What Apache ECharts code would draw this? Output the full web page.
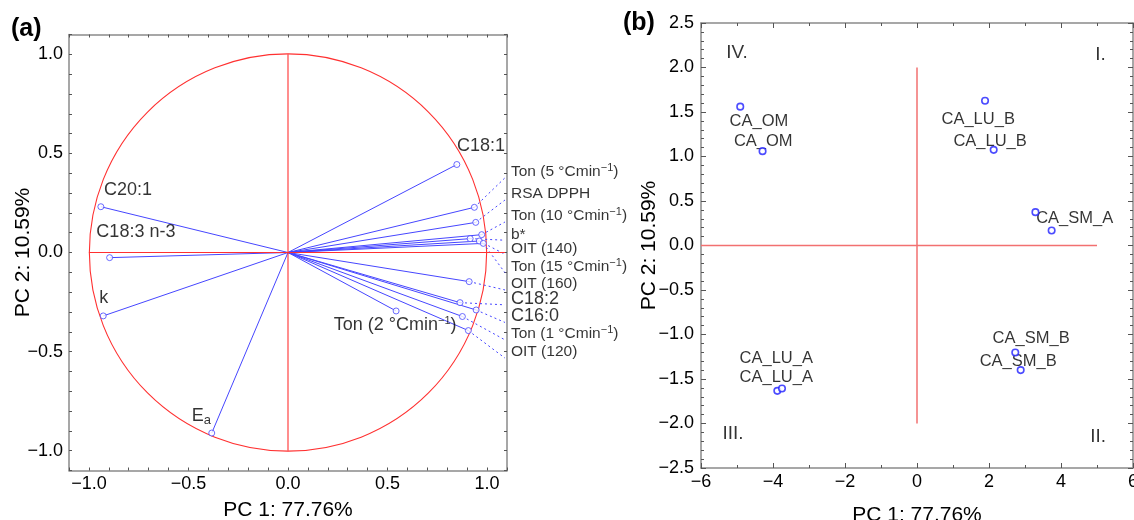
<!DOCTYPE html>
<html>
<head>
<meta charset="utf-8">
<script src="https://cdn.jsdelivr.net/npm/echarts@6/dist/echarts.min.js"></script>
<style>
html,body{margin:0;padding:0;background:#fff;}
#chart{width:1134px;height:520px;}
</style>
</head>
<body>
<div id="chart"></div>
<script>
// ---------- Panel (a): loadings ----------
// loadings whose labels sit in the list at the right edge
const listNames = ['Ton (5 °Cmin{sup|−1})', 'RSA DPPH', 'Ton (10 °Cmin{sup|−1})', 'b*', 'OIT (140)',
  'Ton (15 °Cmin{sup|−1})', 'OIT (160)', '{big|C18:2}', '{big|C16:0}', 'Ton (1 °Cmin{sup|−1})', 'OIT (120)'];
const listX = [0.936, 0.943, 0.973, 0.915, 0.961, 0.981, 0.910, 0.864, 0.945, 0.876, 0.906];
const listY = [0.228, 0.152, 0.090, 0.070, 0.058, 0.046, -0.147, -0.253, -0.290, -0.323, -0.394];
const listLabelY = [0.407, 0.295, 0.184, 0.092, 0.021, -0.072, -0.159, -0.234, -0.323, -0.411, -0.503];
const listLabelX = 1.12;
const connectorEndX = 1.09;

// loadings labelled next to their point
const otherNames = ['C18:1', 'C20:1', 'C18:3 n-3', 'k', 'E{sub|a}', 'Ton (2 °Cmin{sup|−1})'];
const otherX = [0.848, -0.940, -0.896, -0.928, -0.383, 0.543];
const otherY = [0.444, 0.231, -0.026, -0.320, -0.911, -0.295];
const otherLabelX = [0.97, -0.804, -0.764, -0.925, -0.435, 0.538];
const otherLabelY = [0.536, 0.315, 0.103, -0.229, -0.825, -0.365];

const loadAxisMin = -1.1, loadAxisMax = 1.1;

// ---------- Panel (b): scores ----------
const sampleX = [-4.91, -4.29, 1.89, 2.13, 3.29, 3.74, -3.88, -3.75, 2.73, 2.88];
const sampleY = [1.56, 1.06, 1.626, 1.075, 0.375, 0.169, -1.633, -1.607, -1.202, -1.40];
const sampleLabels = ['CA_OM', 'CA_OM', 'CA_LU_B', 'CA_LU_B', 'CA_SM_A', 'CA_LU_A', 'CA_LU_A', 'CA_SM_B', 'CA_SM_B'];
const sampleLabelX = [-4.39, -4.27, 1.70, 2.03, 4.38, -3.91, -3.91, 3.17, 2.81];
const sampleLabelY = [1.393, 1.169, 1.42, 1.169, 0.30, -1.273, -1.479, -1.048, -1.303];
const quadrantNames = ['IV.', 'I.', 'III.', 'II.'];
const quadrantX = [-5.0, 5.1, -5.11, 5.03];
const quadrantY = [2.16, 2.14, -2.11, -2.15];

const scoreXMin = -6, scoreXMax = 6, scoreXStep = 2;
const scoreYMin = -2.5, scoreYMax = 2.5, scoreYStep = 0.5;

// ---------- styles ----------
const FONT = 'Liberation Sans, Arial, Helvetica, sans-serif';
const FRAME = '#8a8a8a';
const BLUE = '#4646ff';
const RED = '#ff3030';

const minus = v => (v < -1e-9 ? '\u2212' : '') + Math.abs(v);
function fmt1(v) { return (v < -1e-9 ? '\u2212' : '') + Math.abs(v).toFixed(1); }
function loadFmt(v) {
  const d = v * 2;
  if (Math.abs(d - Math.round(d)) > 1e-6) return '';
  return fmt1(Math.round(d) / 2);
}

function frameAxis(extra) {
  return Object.assign({
    type: 'value',
    nameMoveOverlap: false,
    axisLine: { show: true, onZero: false, lineStyle: { color: FRAME, width: 1.5 } },
    axisTick: { show: true, inside: true, length: 3, lineStyle: { color: '#555', width: 1 } },
    splitLine: { show: false },
    axisLabel: { show: false },
    nameTextStyle: { fontFamily: FONT, fontSize: 21, color: '#000' }
  }, extra);
}
const tickLabel = (fmt, margin) => ({ show: true, formatter: fmt, fontFamily: FONT, fontSize: 18, color: '#000', margin: margin });

const supRich = {
  sup: { fontSize: 11, fontFamily: FONT, color: '#000', padding: [0, 0, 8, 0], verticalAlign: 'bottom' },
  sub: { fontSize: 13, fontFamily: FONT, color: '#000', padding: [9, 0, 0, 0], verticalAlign: 'top' },
  big: { fontSize: 18, fontFamily: FONT, color: '#000' }
};

const chart = echarts.init(document.getElementById('chart'), null, { renderer: 'canvas' });

const vecData = listX.map((x, i) => [x, listY[i]]).concat(otherX.map((x, i) => [x, otherY[i]]));
const connData = listX.map((x, i) => [x, listY[i], connectorEndX, listLabelY[i] - 0.03]);

const option = {
  animation: false,
  backgroundColor: '#fff',
  textStyle: { fontFamily: FONT },
  grid: [
    { left: 69, top: 34.5, width: 438, height: 436, outerBoundsMode: 'none', containLabel: false },
    { left: 701, top: 23, width: 432, height: 445, outerBoundsMode: 'none', containLabel: false }
  ],
  xAxis: [
    frameAxis({ gridIndex: 0, position: 'bottom', min: loadAxisMin, max: loadAxisMax, interval: 0.1,
      axisLabel: tickLabel(loadFmt, 5), name: 'PC 1: 77.76%', nameLocation: 'middle', nameGap: 29 }),
    frameAxis({ gridIndex: 0, position: 'top', min: loadAxisMin, max: loadAxisMax, interval: 0.1 }),
    frameAxis({ gridIndex: 1, position: 'bottom', min: scoreXMin, max: scoreXMax, interval: scoreXStep,
      minorTick: { show: true, splitNumber: 2, length: 3, lineStyle: { color: '#555' } },
      axisTick: { show: true, inside: true, length: 5, lineStyle: { color: '#555' } },
      axisLabel: tickLabel(v => minus(v), 5), name: 'PC 1: 77.76%', nameLocation: 'middle', nameGap: 37 }),
    frameAxis({ gridIndex: 1, position: 'top', min: scoreXMin, max: scoreXMax, interval: scoreXStep,
      minorTick: { show: true, splitNumber: 2, length: 3, lineStyle: { color: '#555' } },
      axisTick: { show: true, inside: true, length: 5, lineStyle: { color: '#555' } } })
  ],
  yAxis: [
    frameAxis({ gridIndex: 0, position: 'left', min: loadAxisMin, max: loadAxisMax, interval: 0.1,
      axisLabel: tickLabel(loadFmt, 6), name: 'PC 2: 10.59%', nameLocation: 'middle', nameGap: 35, nameRotate: 90 }),
    frameAxis({ gridIndex: 0, position: 'right', min: loadAxisMin, max: loadAxisMax, interval: 0.1 }),
    frameAxis({ gridIndex: 1, position: 'left', min: scoreYMin, max: scoreYMax, interval: scoreYStep,
      minorTick: { show: true, splitNumber: 5, length: 3, lineStyle: { color: '#555' } },
      axisTick: { show: true, inside: true, length: 5, lineStyle: { color: '#555' } },
      axisLabel: tickLabel(fmt1, 7), name: 'PC 2: 10.59%', nameLocation: 'middle', nameGap: 41, nameRotate: 90 }),
    frameAxis({ gridIndex: 1, position: 'right', min: scoreYMin, max: scoreYMax, interval: scoreYStep,
      minorTick: { show: true, splitNumber: 5, length: 3, lineStyle: { color: '#555' } },
      axisTick: { show: true, inside: true, length: 5, lineStyle: { color: '#555' } } })
  ],
  series: [
    // unit circle
    { type: 'custom', xAxisIndex: 0, yAxisIndex: 0, data: [[0, 0]], clip: false, silent: true,
      renderItem: (p, api) => {
        const c = api.coord([0, 0]); const s = api.size([1, 1]);
        return { type: 'circle', shape: { cx: c[0], cy: c[1], r: (s[0] + s[1]) / 2 },
          style: { fill: 'none', stroke: RED, lineWidth: 1.1 } };
      } },
    // red cross in panel (a)
    { type: 'line', xAxisIndex: 0, yAxisIndex: 0, data: [[-1, 0], [1.09, 0]], symbol: 'none',
      lineStyle: { color: RED, width: 1.1 }, silent: true },
    { type: 'line', xAxisIndex: 0, yAxisIndex: 0, data: [[0, -1], [0, 1]], symbol: 'none',
      lineStyle: { color: RED, width: 1.1 }, silent: true },
    // loading vectors
    { type: 'custom', xAxisIndex: 0, yAxisIndex: 0, data: vecData, clip: false,
      renderItem: (p, api) => {
        const o = api.coord([0, 0]); const q = api.coord([api.value(0), api.value(1)]);
        return { type: 'line', shape: { x1: o[0], y1: o[1], x2: q[0], y2: q[1] },
          style: { stroke: BLUE, lineWidth: 1 } };
      } },
    // dotted connectors to list labels
    { type: 'custom', xAxisIndex: 0, yAxisIndex: 0, data: connData, clip: false,
      renderItem: (p, api) => {
        const a = api.coord([api.value(0), api.value(1)]); const b = api.coord([api.value(2), api.value(3)]);
        return { type: 'line', shape: { x1: a[0], y1: a[1], x2: b[0], y2: b[1] },
          style: { stroke: BLUE, lineWidth: 1, lineDash: [2, 3] } };
      } },
    // loading points
    { type: 'scatter', xAxisIndex: 0, yAxisIndex: 0, data: vecData, symbol: 'circle', symbolSize: 6,
      itemStyle: { color: '#fff', borderColor: BLUE, borderWidth: 1 }, z: 3 },
    // list labels
    { type: 'scatter', xAxisIndex: 0, yAxisIndex: 0, clip: false, symbolSize: 0,
      data: listNames.map((n, i) => ({ value: [listLabelX, listLabelY[i]], name: n })),
      label: { show: true, position: 'right', distance: 0, formatter: p => p.name,
        fontFamily: FONT, fontSize: 15.5, color: '#000', rich: supRich } },
    // other loading labels
    { type: 'scatter', xAxisIndex: 0, yAxisIndex: 0, clip: false, symbolSize: 0,
      data: otherNames.map((n, i) => ({ value: [otherLabelX[i], otherLabelY[i]], name: n })),
      label: { show: true, position: 'inside', formatter: p => p.name,
        fontFamily: FONT, fontSize: 18, color: '#000', rich: supRich } },

    // panel (b) reference lines
    { type: 'line', xAxisIndex: 2, yAxisIndex: 2, data: [[0, -2], [0, 2]], symbol: 'none',
      lineStyle: { color: '#f27070', width: 1.5 }, silent: true },
    { type: 'line', xAxisIndex: 2, yAxisIndex: 2, data: [[-6, 0], [5, 0]], symbol: 'none',
      lineStyle: { color: '#f27070', width: 1.5 }, silent: true },
    // scores
    { type: 'scatter', xAxisIndex: 2, yAxisIndex: 2, data: sampleX.map((x, i) => [x, sampleY[i]]),
      symbol: 'circle', symbolSize: 6.5, itemStyle: { color: '#fff', borderColor: '#1f1fff', borderWidth: 1.6 }, z: 3 },
    { type: 'scatter', xAxisIndex: 2, yAxisIndex: 2, clip: false, symbolSize: 0,
      data: sampleLabels.map((n, i) => ({ value: [sampleLabelX[i], sampleLabelY[i]], name: n })),
      label: { show: true, position: 'inside', formatter: p => p.name, fontFamily: FONT, fontSize: 16.5, color: '#000' } },
    { type: 'scatter', xAxisIndex: 2, yAxisIndex: 2, clip: false, symbolSize: 0,
      data: quadrantNames.map((n, i) => ({ value: [quadrantX[i], quadrantY[i]], name: n })),
      label: { show: true, position: 'inside', formatter: p => p.name, fontFamily: FONT, fontSize: 19, color: '#000' } }
  ],
  graphic: [
    { type: 'text', left: 11, top: 17, style: { text: '(a)', font: 'bold 25px ' + FONT, fill: '#000' } },
    { type: 'text', left: 623, top: 11, style: { text: '(b)', font: 'bold 25px ' + FONT, fill: '#000' } }
  ]
};
chart.setOption(option);
</script>
</body>
</html>
